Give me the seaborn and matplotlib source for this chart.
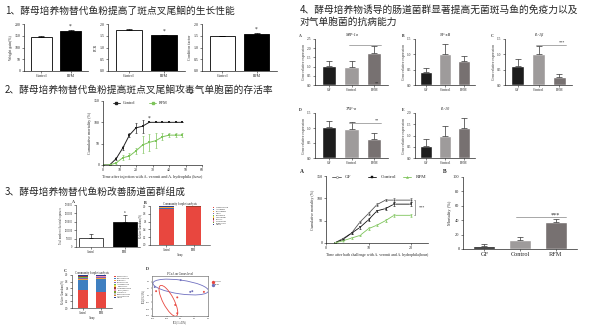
import numpy as np
import pandas as pd
import matplotlib
matplotlib.use('Agg')
import matplotlib.pyplot as plt
import seaborn as sns
from matplotlib.patches import Ellipse

sns.set_theme(style='ticks')
plt.rcParams['font.family'] = ['Liberation Serif', 'DejaVu Sans']
CJK = ['Noto Sans CJK SC', 'DejaVu Sans']

# ---------------- data ----------------
grp2 = ['Control', 'RFM']
weight_gain = [146, 170]
weight_gain_err = [3, 3]
fcr = [1.75, 1.52]
fcr_err = [0.05, 0.03]
cond_factor = [1.48, 1.58]
cond_factor_err = [0.01, 0.03]

hours = [0, 4, 8, 12, 16, 20, 24, 28, 32, 36, 40, 44, 48]
ctrl_mort = [0, 0, 15, 40, 70, 87, 91, 100, 100, 100, 100, 100, 100]
ctrl_mort_err = [0, 0, 3, 5, 5, 12, 15, 0, 0, 0, 0, 0, 0]
rfm_mort = [0, 0, 5, 17, 21, 33, 47, 53, 57, 66, 70, 70, 70]
rfm_mort_err = [0, 0, 3, 6, 6, 8, 20, 20, 17, 8, 5, 5, 5]

abundance = [56000, 150000]
abundance_err = [22000, 42000]

genus_names = ['Cetobacterium', 'Aeromonas', 'Plesiomonas', 'Vibrio', 'Shewanella',
               'Clostridium', 'Bacillus', 'Lactococcus', 'Romboutsia', 'Others']
genus_ctrl = [0.93, 0.03, 0.005, 0.005, 0.003, 0.003, 0.002, 0.002, 0.002, 0.018]
genus_rfm = [0.965, 0.01, 0.004, 0.003, 0.003, 0.002, 0.002, 0.002, 0.002, 0.007]
genus_colors = ['#e8473f', '#3f6fb5', '#f2a33a', '#8a5fb0', '#5db55d', '#f4d742',
                '#9c3d2e', '#e889b6', '#7a9a2c', '#2b3a8c']

phylum_names = ['Fusobacteria', 'Proteobacteria', 'Firmicutes', 'Bacteroidetes',
                'Actinobacteria', 'Tenericutes', 'Verrucomicrobia', 'Spirochaetes',
                'Chloroflexi', 'Planctomycetes', 'Cyanobacteria', 'Others']
phylum_ctrl = [0.55, 0.30, 0.04, 0.02, 0.02, 0.015, 0.01, 0.005, 0.005, 0.005, 0.005, 0.025]
phylum_rfm = [0.50, 0.38, 0.03, 0.015, 0.01, 0.01, 0.005, 0.005, 0.005, 0.005, 0.005, 0.03]
phylum_colors = ['#e8473f', '#3f7fc0', '#f2a33a', '#8a5fb0', '#5db55d', '#f4d742',
                 '#9c3d2e', '#e889b6', '#7a9a2c', '#c0c0c0', '#d97b2c', '#2b3a8c']

pcoa_x_ctrl = [-0.36, -0.05, -0.08, -0.05, 0.34]
pcoa_y_ctrl = [0.06, -0.03, -0.14, -0.26, 0.05]
pcoa_x_rfm = [0.0, -0.38, 0.14, 0.17]
pcoa_y_rfm = [0.22, 0.12, 0.05, 0.06]

grp3 = ['GF', 'Control', 'RFM']
mip1a = [1.04, 0.97, 1.73]
mip1a_err = [0.27, 0.34, 0.37]
nfkb = [0.44, 1.0, 0.77]
nfkb_err = [0.11, 0.33, 0.16]
il1b = [0.63, 1.0, 0.27]
il1b_err = [0.21, 0.27, 0.09]
tnfa = [1.03, 0.98, 0.63]
tnfa_err = [0.22, 0.21, 0.19]
il10 = [0.53, 0.99, 1.33]
il10_err = [0.31, 0.45, 0.45]

bath_hours = [2, 4, 6, 8, 10, 12, 14, 16, 20]
gf_bath = [0, 10, 22, 47, 66, 86, 96, 96, 96]
gf_bath_err = [0, 2, 2, 3, 3, 4, 2, 4, 4]
ctrl_bath = [0, 8, 22, 35, 52, 72, 77, 87, 87]
ctrl_bath_err = [0, 2, 2, 3, 3, 3, 3, 4, 4]
rfm_bath = [0, 5, 11, 17, 32, 40, 50, 62, 62]
rfm_bath_err = [0, 1, 2, 2, 3, 3, 3, 3, 3]

mortality = [4, 12, 38]
mortality_err = [3, 4, 3]

# ---------------- figure ----------------
W, H = 600, 326
fig = plt.figure(figsize=(6, 3.26), dpi=100)
fig.patch.set_facecolor('white')


def axpx(x0, y0, x1, y1):
    return fig.add_axes([x0 / W, 1 - y1 / H, (x1 - x0) / W, (y1 - y0) / H])


def txt(x, y, s, **kw):
    return fig.text(x / W, 1 - y / H, s, **kw)


def style(ax, fs=2.8, lw=0.5):
    sns.despine(ax=ax)
    for sp in ['left', 'bottom']:
        ax.spines[sp].set_linewidth(lw)
        ax.spines[sp].set_color('#222222')
    ax.tick_params(labelsize=fs, length=1.5, width=0.4, pad=1, colors='#222222')
    ax.set_facecolor('white')


def bar2(ax, vals, errs, ylabel, yl, yt, stars='*'):
    sns.barplot(x=grp2, y=vals, hue=grp2, palette=['white', 'black'], edgecolor='black',
                linewidth=0.6, width=0.72, legend=False, ax=ax)
    ax.errorbar(range(2), vals, yerr=[[0, 0], errs], fmt='none', ecolor='black',
                elinewidth=0.5, capsize=2, capthick=0.5)
    ax.set_ylim(*yl)
    ax.set_yticks(yt)
    ax.set_xlabel('')
    ax.set_ylabel(ylabel, fontsize=2.8, labelpad=1)
    ax.set_xlim(-0.6, 1.6)
    style(ax)
    ax.text(1, vals[1] + errs[1] + (yl[1] - yl[0]) * 0.03, stars, ha='center', va='bottom', fontsize=4)


# Section 1
txt(5, 11, '1、酵母培养物替代鱼粉提高了斑点叉尾鮰的生长性能', fontsize=7, family=CJK, va='center')
ax = axpx(24, 24, 88, 71)
bar2(ax, weight_gain, weight_gain_err, 'Weight gain(%)', (0, 200), [0, 50, 100, 150, 200])
ax = axpx(108, 24, 185, 71)
bar2(ax, fcr, fcr_err, 'FCR', (0, 2.0), [0, 0.5, 1.0, 1.5, 2.0])
ax.set_yticklabels(['0.0', '0.5', '1.0', '1.5', '2.0'])
ax = axpx(202, 24, 277, 71)
bar2(ax, cond_factor, cond_factor_err, 'Condition factor', (0, 2.0), [0, 0.5, 1.0, 1.5, 2.0])
ax.set_yticklabels(['0.0', '0.5', '1.0', '1.5', '2.0'])

# Section 2
txt(5, 90, '2、酵母培养物替代鱼粉提高斑点叉尾鮰攻毒气单胞菌的存活率', fontsize=7, family=CJK, va='center')
ax = axpx(103, 101, 202, 165)
df = pd.DataFrame({'hour': hours * 2, 'mort': ctrl_mort + rfm_mort,
                   'group': ['Control'] * len(hours) + ['RFM'] * len(hours)})
pal2 = {'Control': '#222222', 'RFM': '#7dc45a'}
sns.lineplot(data=df, x='hour', y='mort', hue='group', palette=pal2, marker='s',
             markersize=1.6, markeredgewidth=0, linewidth=0.7, ax=ax, legend=False)
ax.errorbar(hours, ctrl_mort, yerr=ctrl_mort_err, fmt='none', ecolor='#222222', elinewidth=0.5, capsize=1, capthick=0.4)
ax.errorbar(hours, rfm_mort, yerr=rfm_mort_err, fmt='none', ecolor='#7dc45a', elinewidth=0.5, capsize=1, capthick=0.4)
ax.set_xlim(0, 60)
ax.set_xticks(range(0, 61, 10))
ax.set_ylim(0, 150)
ax.set_yticks([0, 50, 100, 150])
ax.set_xlabel('Time after injection with A. veronii and A. hydrophila (hour)', fontsize=3, labelpad=1.5)
ax.set_ylabel('Cumulative mortality (%)', fontsize=3, labelpad=1)
style(ax)
ax.text(28, 106, '*', ha='center', fontsize=4)
ax.plot([112 / 3 - 36, 0], [0, 0], alpha=0)
# legend
for i, (lab, c) in enumerate([('Control', '#222222'), ('RFM', '#7dc45a')]):
    x0 = 6 + i * 22
    ax.plot([x0, x0 + 4], [146, 146], color=c, lw=0.6, clip_on=False)
    ax.plot([x0 + 2], [146], marker='s', color=c, ms=1.5, clip_on=False)
    ax.text(x0 + 6, 146, lab, fontsize=3, va='center')

# Section 3
txt(5, 192, '3、酵母培养物替代鱼粉改善肠道菌群组成', fontsize=7, family=CJK, va='center')
ax = axpx(76, 205, 140, 247)
sns.barplot(x=grp2, y=abundance, hue=grp2, palette=['white', 'black'], edgecolor='black',
            linewidth=0.5, width=0.72, legend=False, ax=ax)
ax.errorbar(range(2), abundance, yerr=[[0, 0], abundance_err], fmt='none', ecolor='black',
            elinewidth=0.4, capsize=1.5, capthick=0.4)
ax.set_ylim(0, 250000)
ax.set_yticks(range(0, 250001, 50000))
ax.set_xlabel('')
ax.set_ylabel('Total number of bacterial sequences', fontsize=1.8, labelpad=1)
style(ax, fs=1.8, lw=0.4)
ax.text(1, 200000, 'a', ha='center', fontsize=2.5)
ax.text(0, 84000, 'b', ha='center', fontsize=2.5, alpha=0)
txt(72, 203, 'A', fontsize=3, weight='bold')


def stacked(ax, names, ctrl, rfm, colors, title):
    bottoms = np.zeros(2)
    for n, a, b, c in zip(names, ctrl, rfm, colors):
        ax.bar([0, 1], [a, b], bottom=bottoms, color=c, width=0.55, edgecolor='none', label=n)
        bottoms += np.array([a, b])
    ax.set_xlim(-0.6, 1.6)
    ax.set_ylim(0, 1.0)
    ax.set_xticks([0, 1])
    ax.set_xticklabels(['Control', 'RFM'])
    ax.set_yticks([0, 0.2, 0.4, 0.6, 0.8, 1.0])
    ax.set_ylabel('Relative Abundance(%)', fontsize=1.8, labelpad=1)
    ax.set_xlabel('Group', fontsize=1.8, labelpad=0.5)
    style(ax, fs=1.8, lw=0.4)
    ax.set_title(title, fontsize=2.2, pad=1)
    ax.legend(loc='upper left', bbox_to_anchor=(1.03, 1.0), fontsize=1.5, frameon=False,
              handlelength=0.8, handleheight=0.6, labelspacing=0.25, borderaxespad=0)


ax = axpx(150, 206, 210, 245)
stacked(ax, genus_names, genus_ctrl, genus_rfm, genus_colors, 'Community barplot analysis')
txt(144, 204, 'B', fontsize=3, weight='bold')

ax = axpx(72, 275, 112, 308)
stacked(ax, phylum_names, phylum_ctrl, phylum_rfm, phylum_colors, 'Community barplot analysis')
txt(64, 272, 'C', fontsize=3, weight='bold')

ax = axpx(152, 276, 208, 316)
dfp = pd.DataFrame({'x': pcoa_x_ctrl + pcoa_x_rfm, 'y': pcoa_y_ctrl + pcoa_y_rfm,
                    'group': ['Control'] * len(pcoa_x_ctrl) + ['RFM'] * len(pcoa_x_rfm)})
sns.scatterplot(data=dfp, x='x', y='y', hue='group', palette={'Control': '#e8473f', 'RFM': '#7070b8'},
                s=2, linewidth=0, ax=ax, legend=False)
ax.add_patch(Ellipse((0.0, 0.12), 0.82, 0.2, angle=-8, fill=False, ec='#7070c0', lw=0.6))
ax.add_patch(Ellipse((-0.18, -0.08), 0.5, 0.16, angle=-62, fill=False, ec='#e8473f', lw=0.6))
ax.set_xlim(-0.42, 0.4)
ax.set_ylim(-0.3, 0.28)
for sp in ['top', 'right', 'left', 'bottom']:
    ax.spines[sp].set_linewidth(0.4)
    ax.spines[sp].set_color('#555555')
ax.tick_params(labelsize=1.6, length=1, width=0.3, pad=0.5)
ax.set_xlabel('PC1(31.45%)', fontsize=1.8, labelpad=0.5)
ax.set_ylabel('PC2(19.21%)', fontsize=1.8, labelpad=0.5)
ax.set_title('PCoA on Genus level', fontsize=2.2, pad=1)
ax.scatter([0.47], [0.2], s=2, color='#e8473f', clip_on=False)
ax.scatter([0.47], [0.15], s=2, color='#7070b8', clip_on=False)
ax.text(0.5, 0.2, 'Control', fontsize=1.6, va='center')
ax.text(0.5, 0.15, 'RFM', fontsize=1.6, va='center')
txt(146, 270, 'D', fontsize=3, weight='bold')

# Section 4
txt(300, 10, '4、酵母培养物诱导的肠道菌群显著提高无菌斑马鱼的免疫力以及', fontsize=7, family=CJK, va='center')
txt(300, 22, '对气单胞菌的抗病能力', fontsize=7, family=CJK, va='center')

pal3 = ['#1d1d1d', '#9f9a9a', '#787070']


def bar3(ax, vals, errs, title, yl, yt, sig=None, letter=''):
    sns.barplot(x=grp3, y=vals, hue=grp3, palette=pal3, width=0.62, legend=False, ax=ax)
    ax.errorbar(range(3), vals, yerr=[[0, 0, 0], errs], fmt='none', ecolor='#333333',
                elinewidth=0.5, capsize=2, capthick=0.5)
    ax.set_ylim(*yl)
    ax.set_yticks(yt)
    ax.set_yticklabels(['%.1f' % v for v in yt])
    ax.set_xlabel('')
    ax.set_ylabel('Gene relative expression', fontsize=2.6, labelpad=1)
    ax.set_xlim(-0.6, 2.6)
    style(ax, fs=2.6)
    ax.set_title(title, fontsize=3, style='italic', pad=2)
    if sig:
        y, s = sig
        ax.plot([0.9, 2.3], [y, y], color='#888888', lw=0.5)
        ax.text(2.1, y, s, ha='center', va='bottom', fontsize=3)
    ax.text(-0.22, 1.05, letter, transform=ax.transAxes, fontsize=2.8, weight='bold')


ax = axpx(315, 39, 388, 85)
bar3(ax, mip1a, mip1a_err, 'MIP-1α', (0, 2.5), [0, 0.5, 1.0, 1.5, 2.0, 2.5], ('2.2', '**'), 'A')
ax.lines[-1].set_ydata([2.2, 2.2])
ax = axpx(415, 39, 475, 85)
bar3(ax, nfkb, nfkb_err, 'NF-κB', (0, 1.5), [0, 0.5, 1.0, 1.5], None, 'B')
ax = axpx(505, 39, 572, 85)
bar3(ax, il1b, il1b_err, 'IL-1β', (0, 1.5), [0, 0.5, 1.0, 1.5], (1.32, '***'), 'C')
ax = axpx(315, 113, 388, 158)
bar3(ax, tnfa, tnfa_err, 'TNF-α', (0, 1.5), [0, 0.5, 1.0, 1.5], (1.17, '**'), 'D')
ax = axpx(415, 113, 475, 158)
bar3(ax, il10, il10_err, 'IL-10', (0, 2.0), [0, 0.5, 1.0, 1.5, 2.0], None, 'E')

# Section 4 A line chart
ax = axpx(326, 176, 428, 243)
dfb = pd.DataFrame({'hour': bath_hours * 3, 'mort': gf_bath + ctrl_bath + rfm_bath,
                    'group': ['GF'] * 9 + ['Control'] * 9 + ['RFM'] * 9})
pal_b = {'GF': '#555555', 'Control': '#111111', 'RFM': '#7dc45a'}
sns.lineplot(data=dfb, x='hour', y='mort', hue='group', style='group',
             markers={'GF': 'o', 'Control': 's', 'RFM': '^'}, dashes=False,
             palette=pal_b, markersize=1.6, markeredgewidth=0.3, linewidth=0.6, ax=ax, legend=False)
for vals, errs, c in [(gf_bath, gf_bath_err, '#555555'), (ctrl_bath, ctrl_bath_err, '#111111'),
                      (rfm_bath, rfm_bath_err, '#7dc45a')]:
    ax.errorbar(bath_hours, vals, yerr=errs, fmt='none', ecolor=c, elinewidth=0.4, capsize=1, capthick=0.4)
ax.set_xlim(0, 24)
ax.set_xticks([0, 10, 20])
ax.set_ylim(0, 150)
ax.set_yticks([0, 50, 100, 150])
ax.set_xlabel('Time after bath challenge with A. veronii and A. hydrophila(hour)', fontsize=2.8, labelpad=1.5)
ax.set_ylabel('Cumulative mortality (%)', fontsize=2.8, labelpad=1)
style(ax, fs=3)
ax.plot([20.6, 21, 21, 20.6], [96, 96, 62, 62], color='#555555', lw=0.4)
ax.text(22.5, 79, '***', ha='center', va='center', fontsize=3)
for i, (lab, c, m) in enumerate([('GF', '#555555', 'o'), ('Control', '#111111', 's'), ('RFM', '#7dc45a', '^')]):
    x0 = 1.5 + i * 8.3
    ax.plot([x0, x0 + 2], [148, 148], color=c, lw=0.6, clip_on=False)
    ax.plot([x0 + 1], [148], marker=m, color=c, ms=1.5, clip_on=False, mfc='white' if m == 'o' else c, mew=0.3)
    ax.text(x0 + 3, 148, lab, fontsize=3.6, va='center')
txt(300, 173, 'A', fontsize=4, weight='bold')

# Section 4 B bar
ax = axpx(463, 177, 577, 249)
sns.barplot(x=grp3, y=mortality, hue=grp3, palette=pal3, width=0.62, legend=False, ax=ax)
ax.errorbar(range(3), mortality, yerr=[[0, 0, 0], mortality_err], fmt='none', ecolor='#333333',
            elinewidth=0.5, capsize=2.5, capthick=0.5)
ax.set_ylim(0, 100)
ax.set_yticks(range(0, 101, 20))
ax.set_xlabel('')
ax.set_ylabel('Mortality (%)', fontsize=3.2, labelpad=1)
ax.set_xlim(-0.6, 2.6)
style(ax, fs=3.2)
ax.tick_params(axis='x', labelsize=4.5)
ax.plot([0.9, 2.3], [44, 44], color='#999999', lw=0.6)
ax.text(2.0, 44, '***', ha='center', va='bottom', fontsize=4.5)
txt(443, 173, 'B', fontsize=4, weight='bold')

fig.savefig('out.png', dpi=100, facecolor='white')
